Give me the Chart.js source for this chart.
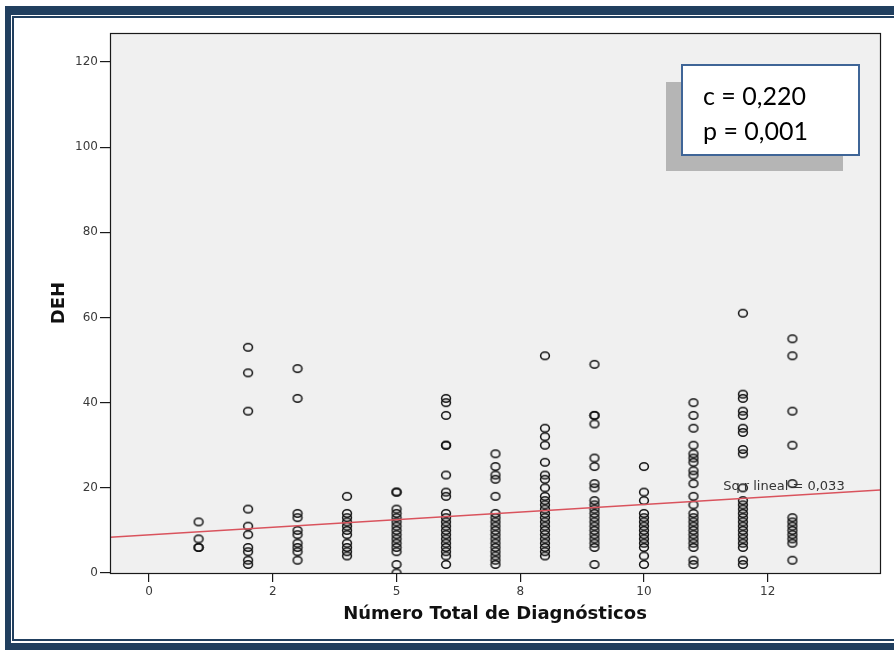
<!DOCTYPE html>
<html>
<head>
<meta charset="utf-8">
<script src="https://cdn.jsdelivr.net/npm/chart.js@4/dist/chart.umd.min.js"></script>
<style>
  html, body { margin: 0; padding: 0; background: #ffffff; }
  #wrap { width: 894px; height: 650px; position: relative; }
</style>
</head>
<body>
<div id="wrap"><canvas id="chart" width="894" height="650"></canvas></div>
<script>
// Número total de diagnósticos (x) and the DEH scores observed for each count
const diagnosticCounts = [1, 2, 3, 4, 5, 6, 7, 8, 9, 10, 11, 12, 13];
const deh1  = [12, 8, 6, 6];
const deh2  = [53, 47, 38, 15, 11, 9, 6, 5, 3, 2];
const deh3  = [48, 41, 14, 13, 10, 9, 7, 6, 5, 3];
const deh4  = [18, 14, 13, 12, 11, 10, 9, 7, 6, 5, 4];
const deh5  = [19, 19, 15, 14, 13, 12, 11, 10, 9, 8, 7, 6, 5, 2, 0];
const deh6  = [41, 40, 37, 30, 30, 23, 19, 18, 14, 13, 12, 11, 10, 9, 8, 7, 6, 5, 4, 2];
const deh7  = [28, 25, 23, 22, 18, 14, 13, 12, 11, 10, 9, 8, 7, 6, 5, 4, 3, 2];
const deh8  = [51, 34, 32, 30, 26, 23, 22, 20, 18, 17, 16, 15, 14, 13, 12, 11, 10, 9, 8, 7, 6, 5, 4];
const deh9  = [49, 37, 37, 35, 27, 25, 21, 20, 17, 16, 15, 14, 13, 12, 11, 10, 9, 8, 7, 6, 2];
const deh10 = [25, 19, 17, 14, 13, 12, 11, 10, 9, 8, 7, 6, 4, 2];
const deh11 = [40, 37, 34, 30, 28, 27, 26, 24, 23, 21, 18, 16, 14, 13, 12, 11, 10, 9, 8, 7, 6, 3, 2];
const deh12 = [61, 42, 41, 38, 37, 34, 33, 29, 28, 20, 17, 16, 15, 14, 13, 12, 11, 10, 9, 8, 7, 6, 3, 2];
const deh13 = [55, 51, 38, 30, 21, 13, 12, 11, 10, 9, 8, 7, 3];
const dehColumns = [deh1, deh2, deh3, deh4, deh5, deh6, deh7, deh8, deh9, deh10, deh11, deh12, deh13];

// Linear fit shown on the plot
const fitIntercept = 8.96;
const fitSlope = 0.713;
const fitLabel = 'Sq r lineal = 0,033';

// Correlation summary
const statLines = ['c = 0,220', 'p = 0,001'];

// Axes
const xTitle = 'Número Total de Diagnósticos';
const yTitle = 'DEH';
const xTickValues = [0, 2.5, 5, 7.5, 10, 12.5];
const xTickLabels = ['0', '2', '5', '8', '10', '12'];
const yTickValues = [0, 20, 40, 60, 80, 100, 120];
const xRange = [-0.79, 14.77];
const yRange = [0, 126.8];

// ---- build datasets ----
const scatterPoints = [];
diagnosticCounts.forEach((n, i) => {
  dehColumns[i].forEach(v => scatterPoints.push({ x: n, y: v }));
});
const fitPoints = xRange.map(x => ({ x: x, y: fitIntercept + fitSlope * x }));

// hollow, slightly flattened marker
function makeMarker() {
  const c = document.createElement('canvas');
  c.width = 12; c.height = 11;
  const g = c.getContext('2d');
  g.strokeStyle = '#111111';
  g.lineWidth = 1.5;
  g.beginPath();
  g.ellipse(6, 5.5, 4.4, 3.7, 0, 0, Math.PI * 2);
  g.stroke();
  return c;
}
const marker = makeMarker();

const NAVY = '#213f5f';
const SANS = '"DejaVu Sans", Verdana, sans-serif';

const backdrop = {
  id: 'backdrop',
  beforeDraw(chart) {
    const ctx = chart.ctx;
    const W = chart.width, H = chart.height;
    ctx.save();
    ctx.fillStyle = '#ffffff';
    ctx.fillRect(0, 0, W, H);
    // page frame
    ctx.fillStyle = NAVY;
    ctx.fillRect(5, 6, W - 5, 9);      // top band
    ctx.fillRect(5, 6, 6, H - 6);      // left band
    ctx.fillRect(5, 643, W - 5, H - 643); // bottom band
    ctx.fillRect(12, 16, W - 12, 2);   // inner top line
    ctx.fillRect(12, 16, 2, 625);      // inner left line
    ctx.fillRect(12, 639, W - 12, 2);  // inner bottom line
    // plot background
    const a = chart.chartArea;
    ctx.fillStyle = '#f0f0f0';
    ctx.fillRect(a.left, a.top, a.right - a.left, a.bottom - a.top);
    ctx.restore();
  }
};

const overlay = {
  id: 'overlay',
  afterDraw(chart) {
    const ctx = chart.ctx;
    const a = chart.chartArea;
    const xs = chart.scales.x, ys = chart.scales.y;
    ctx.save();
    // plot frame
    ctx.strokeStyle = '#1a1a1a';
    ctx.lineWidth = 1.2;
    ctx.strokeRect(Math.round(a.left) + 0.5, Math.round(a.top) + 0.5,
                   Math.round(a.right - a.left), Math.round(a.bottom - a.top));

    // fit label
    ctx.fillStyle = '#333333';
    ctx.font = '13px ' + SANS;
    ctx.textBaseline = 'middle';
    ctx.textAlign = 'left';
    ctx.fillText(fitLabel, xs.getPixelForValue(11.6), ys.getPixelForValue(20.2));

    // axis titles
    ctx.fillStyle = '#111111';
    ctx.font = 'bold 18px ' + SANS;
    ctx.textAlign = 'center';
    ctx.textBaseline = 'middle';
    ctx.fillText(xTitle, (a.left + a.right) / 2, 614);
    ctx.save();
    ctx.translate(59, (a.top + a.bottom) / 2);
    ctx.rotate(-Math.PI / 2);
    ctx.fillText(yTitle, 0, 0);
    ctx.restore();

    // correlation box with shadow
    ctx.fillStyle = '#b5b5b5';
    ctx.fillRect(666, 82, 177, 89);
    ctx.fillStyle = '#ffffff';
    ctx.fillRect(682, 65, 177, 90);
    ctx.strokeStyle = '#3f6597';
    ctx.lineWidth = 2;
    ctx.strokeRect(682, 65, 177, 90);
    ctx.fillStyle = '#000000';
    ctx.font = '25px Lato, "Open Sans", sans-serif';
    ctx.textAlign = 'left';
    ctx.textBaseline = 'middle';
    ctx.fillText(statLines[0], 703, 97);
    ctx.fillText(statLines[1], 703, 132);
    ctx.restore();
  }
};

new Chart(document.getElementById('chart'), {
  type: 'scatter',
  data: {
    datasets: [
      {
        type: 'line',
        data: fitPoints,
        borderColor: '#d9535d',
        borderWidth: 1.5,
        pointRadius: 0,
        fill: false,
        order: 0
      },
      {
        type: 'scatter',
        data: scatterPoints,
        pointStyle: marker,
        pointRadius: 5,
        order: 1
      }
    ]
  },
  options: {
    responsive: false,
    animation: false,
    devicePixelRatio: 1,
    layout: { padding: { top: 33, right: 14, left: 0, bottom: 0 } },
    plugins: { legend: { display: false }, tooltip: { enabled: false } },
    scales: {
      x: {
        type: 'linear',
        min: xRange[0], max: xRange[1],
        afterBuildTicks(s) { s.ticks = xTickValues.map(v => ({ value: v })); },
        afterFit(s) { s.height = 77; },
        border: { display: false },
        grid: { drawOnChartArea: false, drawTicks: true, tickLength: 9, color: '#1a1a1a', lineWidth: 1.2 },
        ticks: {
          padding: 3,
          color: '#3a3a3a',
          font: { family: SANS, size: 12 },
          callback(v, i) { return xTickLabels[i]; }
        }
      },
      y: {
        type: 'linear',
        min: yRange[0], max: yRange[1],
        afterBuildTicks(s) { s.ticks = yTickValues.map(v => ({ value: v })); },
        afterFit(s) { s.width = 110; },
        border: { display: false },
        grid: { drawOnChartArea: false, drawTicks: true, tickLength: 10, color: '#1a1a1a', lineWidth: 1.2 },
        ticks: {
          padding: 2,
          color: '#3a3a3a',
          font: { family: SANS, size: 12 },
          callback(v) { return String(v); }
        }
      }
    }
  },
  plugins: [backdrop, overlay]
});
</script>
</body>
</html>
